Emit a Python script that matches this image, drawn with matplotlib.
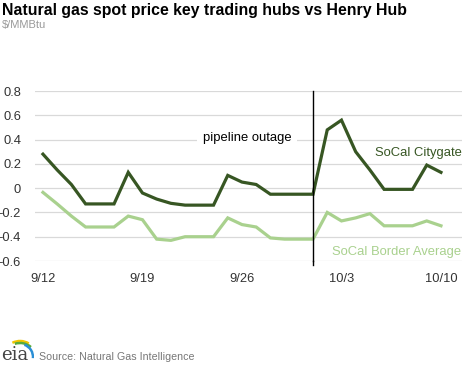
import numpy as np
import matplotlib
matplotlib.use("Agg")
import matplotlib.pyplot as plt
from matplotlib.patches import Arc

plt.rcParams['font.family'] = ['Liberation Sans', 'DejaVu Sans']

# daily values, 9/12 through 10/10
dates = np.arange('2013-09-12', '2013-10-11', dtype='datetime64[D]')
citygate = [0.28, 0.15, 0.03, -0.13, -0.13, -0.13, 0.13, -0.04, -0.09, -0.125,
            -0.14, -0.14, -0.14, 0.105, 0.05, 0.03, -0.05, -0.05, -0.05, -0.05,
            0.48, 0.56, 0.30, 0.15, -0.01, -0.01, -0.01, 0.19, 0.13]
border = [-0.035, -0.13, -0.23, -0.32, -0.32, -0.32, -0.23, -0.26, -0.42, -0.43,
          -0.40, -0.40, -0.40, -0.245, -0.30, -0.32, -0.41, -0.42, -0.42, -0.42,
          -0.20, -0.27, -0.245, -0.21, -0.31, -0.31, -0.31, -0.27, -0.31]
tick_days = [0, 7, 14, 21, 28]
tick_labels = ['9/12', '9/19', '9/26', '10/3', '10/10']
outage_day = 19  # 10/1

x = np.arange(len(dates))
dark = '#375623'
light = '#a9d18e'

fig = plt.figure(figsize=(4.68, 3.68), dpi=100)
ax = fig.add_axes([35 / 468, 1 - 261 / 368, 427 / 468, 170 / 368])

ax.plot(x, border, color=light, lw=2.3, solid_joinstyle='miter', zorder=3)
ax.plot(x, citygate, color=dark, lw=2.3, solid_joinstyle='miter', zorder=3)

ax.set_ylim(-0.6, 0.8)
ax.set_xlim(-0.56, 29.48)
ax.set_yticks(np.arange(-0.6, 0.81, 0.2))
ax.set_yticklabels(['-0.6', '-0.4', '-0.2', '0', '0.2', '0.4', '0.6', '0.8'])
ax.set_xticks(tick_days)
ax.set_xticklabels(tick_labels)
ax.tick_params(length=0, labelsize=9.3, colors='#333333')
ax.tick_params(axis='y', pad=10)
ax.tick_params(axis='x', pad=9)
ax.grid(axis='y', color='#d9d9d9', lw=0.9)
ax.set_axisbelow(True)
for s in ax.spines.values():
    s.set_visible(False)

ax.axvline(outage_day, ymin=0, ymax=1, color='black', lw=1, zorder=4, clip_on=False)
ax.plot([outage_day, outage_day], [-0.6, -0.63], color='black', lw=1, clip_on=False)

ax.text(outage_day - 1.5, 0.41, 'pipeline outage', ha='right', va='center', fontsize=9.4,
        color='black', bbox=dict(facecolor='white', edgecolor='none', pad=4), zorder=2)
ax.text(29.45, 0.29, 'SoCal Citygate', ha='right', va='center', fontsize=9.4, color=dark)
ax.text(29.45, -0.525, 'SoCal Border Average', ha='right', va='center', fontsize=9.4, color=light)

fig.text(2 / 468, 1 - 10 / 368, 'Natural gas spot price key trading hubs vs Henry Hub',
         fontsize=11.4, fontweight='bold', va='center', ha='left')
fig.text(2 / 468, 1 - 25 / 368, '$/MMBtu', fontsize=8, color='#999999', va='center', ha='left')
fig.text(39 / 468, 1 - 357 / 368, 'Source: Natural Gas Intelligence', fontsize=7.7,
         color='#777777', va='center', ha='left')

# eia logo
lax = fig.add_axes([0, 1 - 366 / 368, 34 / 468, 30 / 368])
lax.set_xlim(0, 34)
lax.set_ylim(0, 30)
lax.axis('off')
lax.text(1, 2, 'eia', fontsize=13, family='DejaVu Serif', color='#444444', ha='left', va='bottom')
lax.add_patch(Arc((20, 10), 32, 30, theta1=55, theta2=120, color='#f2c500', lw=1.8))
lax.add_patch(Arc((20, 8), 32, 30, theta1=45, theta2=110, color='#5aab3c', lw=1.8))
lax.add_patch(Arc((20, 9), 26, 26, theta1=-5, theta2=70, color='#2b8fd6', lw=1.8))

fig.savefig('out.png', dpi=100)
